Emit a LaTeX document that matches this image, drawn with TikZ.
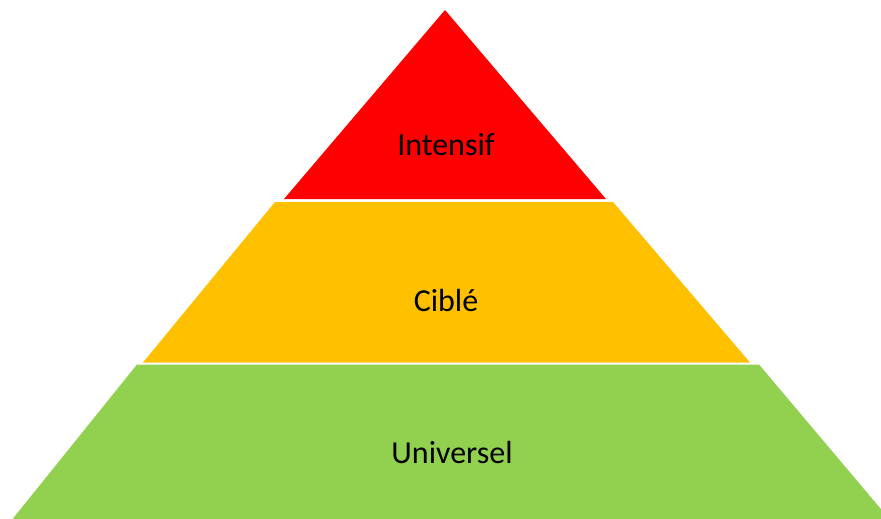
\documentclass[tikz,border=0pt]{standalone}
\usepackage{fontspec}
\setmainfont{Carlito}
\definecolor{tred}{HTML}{FF0000}
\definecolor{tyellow}{HTML}{FFC000}
\definecolor{tgreen}{HTML}{92D050}
\tikzset{tier/.style={draw=none}, lbl/.style={font=\fontsize{32}{37}\selectfont, text=black, inner sep=0pt}}
\begin{document}
\begin{tikzpicture}[x=1pt,y=-1pt]
\useasboundingbox (0,0) rectangle (881,519);
\clip (0,0) rectangle (881,519);
\fill[tier, tred] (445,10) -- (606,199) -- (284,199) -- cycle;
\fill[tier, tyellow] (275,202) -- (613,202) -- (750,362.5) -- (143,362.5) -- cycle;
\fill[tier, tgreen] (137,364.5) -- (759,364.5) -- (891,521) -- (11,521) -- cycle;
\node[lbl] (intensif) at (446,145) {Intensif};
\node[lbl] (cible) at (446,300) {Ciblé};
\node[lbl] (universel) at (452,453) {Universel};
\end{tikzpicture}
\end{document}
